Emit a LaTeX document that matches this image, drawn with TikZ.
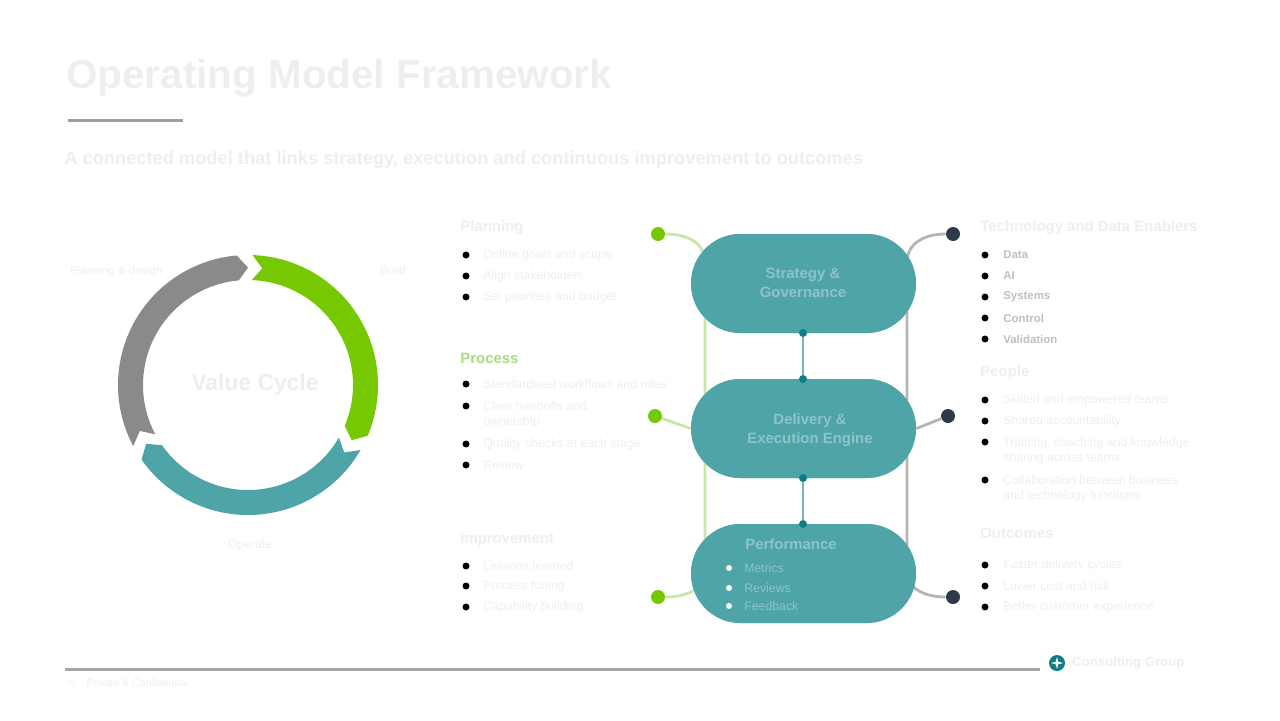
\documentclass[tikz,border=0pt]{standalone}
\usepackage{fontspec}
\setmainfont{Liberation Sans}
\definecolor{cgreen}{HTML}{76C800}
\definecolor{cgray}{HTML}{8A8A8A}
\definecolor{cteal}{HTML}{4FA4A8}
\definecolor{cdteal}{HTML}{0F7D82}
\definecolor{cnavy}{HTML}{2E3A48}
\definecolor{lgreen}{HTML}{C8E6A8}
\definecolor{lgray}{HTML}{B4B4B4}
\definecolor{faint}{HTML}{EEEEEE}
\definecolor{faintg}{HTML}{A8DC80}
\definecolor{faintp}{HTML}{8CC4C7}
\tikzset{
  pill/.style={fill=cteal, rounded corners=49.5*0.02cm, minimum width=225*0.02cm, minimum height=99*0.02cm, inner sep=0pt},
  linkdot/.style={circle, fill=cdteal, inner sep=0pt, minimum size=8*0.02cm},
  gdot/.style={circle, fill=cgreen, inner sep=0pt, minimum size=14*0.02cm},
  ndot/.style={circle, fill=cnavy, inner sep=0pt, minimum size=14*0.02cm},
  bul/.style={circle, fill=black, inner sep=0pt, minimum size=7*0.02cm},
  wbul/.style={circle, fill=white, inner sep=0pt, minimum size=6*0.02cm},
  btxt/.style={anchor=west, inner sep=0pt, text=faint, font=\fontsize{7}{8.5}\selectfont, align=left},
  head/.style={anchor=west, inner sep=0pt, font=\fontsize{8.5}{10}\bfseries\selectfont},
  ptxt/.style={inner sep=0pt, text=faintp, font=\fontsize{8.5}{11}\bfseries\selectfont, align=center},
}
\begin{document}
\begin{tikzpicture}[x=0.02cm,y=-0.02cm]
\useasboundingbox (0,0) rectangle (1280,720);
% title
\node[anchor=west, inner sep=0pt, text=faint, font=\fontsize{23}{27}\bfseries\selectfont] (title) at (66,78) {Operating Model Framework};
\fill[black!38] (68,118.5) rectangle (183,121.5);
\node[anchor=west, inner sep=0pt, text=faint, font=\fontsize{10.4}{13}\bfseries\selectfont] (sub) at (64,160) {A connected model that links strategy, execution and continuous improvement to outcomes};

% donut
\begin{scope}[xshift=248*0.02cm, yshift=-385*0.02cm, x=0.02cm, y=0.02cm]
  \fill[cgray] (208:130) arc[start angle=208, end angle=95, radius=130] -- (90:117.5) -- (95:105) arc[start angle=95, end angle=208, radius=105] -- (203:117.5) -- cycle;
  \fill[cgreen] (88:130) arc[start angle=88, end angle=-23, radius=130] -- (-28:117.5) -- (-23:105) arc[start angle=-23, end angle=88, radius=105] -- (83:117.5) -- cycle;
  \fill[cteal] (-30:130) arc[start angle=-30, end angle=-145, radius=130] -- (-150:117.5) -- (-145:105) arc[start angle=-145, end angle=-30, radius=105] -- (-35:117.5) -- cycle;
\end{scope}
\node[inner sep=0pt, text=faint, font=\fontsize{13}{15}\bfseries\selectfont] (dcenter) at (255,385) {Value Cycle};
\node[anchor=west, inner sep=0pt, text=faint, font=\fontsize{6.5}{8}\selectfont] (dl1) at (70,272) {Planning \& design};
\node[anchor=west, inner sep=0pt, text=faint, font=\fontsize{6.5}{8}\selectfont] (dl2) at (380,270) {Build};
\node[inner sep=0pt, text=faint, font=\fontsize{7}{8}\selectfont] (dl3) at (250,545) {Operate};

% pills
\node[pill] (p1) at (803.5,283.5) {};
\node[pill] (p2) at (803.5,428.5) {};
\node[pill] (p3) at (803.5,573.5) {};

% side connectors
\node[gdot] (g1) at (658,234) {};
\node[gdot] (g2) at (655,416) {};
\node[gdot] (g3) at (658,597) {};
\node[ndot] (n1) at (953,234) {};
\node[ndot] (n2) at (948,416) {};
\node[ndot] (n3) at (953,597) {};
\coordinate (lt) at (705,262);
\coordinate (lb) at (705,572);
\coordinate (rt) at (907,262);
\coordinate (rb) at (907,572);
\draw[lgreen, line width=1.6pt] (g1) .. controls (690,234) and (705,245) .. (lt) -- (lb) .. controls (705,588) and (688,597) .. (g3);
\draw[lgreen, line width=1.6pt] (g2) -- (p2.west);
\draw[lgray, line width=1.6pt] (n1) .. controls (922,234) and (907,245) .. (rt) -- (rb) .. controls (907,588) and (924,597) .. (n3);
\draw[lgray, line width=1.6pt] (p2.east) -- (n2);
% redraw pills on top of the side lines
\node[pill] at (p1) {};
\node[pill] at (p2) {};
\node[pill] at (p3) {};

% links between pills
\node[linkdot] (a1) at (803,333) {};
\node[linkdot] (a2) at (803,379) {};
\node[linkdot] (b1) at (803,478) {};
\node[linkdot] (b2) at (803,524) {};
\draw[cteal!80, line width=1.4pt] (a1) -- (a2);
\draw[cteal!80, line width=1.4pt] (b1) -- (b2);

% pill texts
\node[ptxt] (t1) at (803,283) {Strategy \&\\Governance};
\node[ptxt] (t2) at (810,430) {Delivery \&\\Execution Engine};
\node[ptxt, anchor=west] (t3) at (745,544) {Performance};
\node[wbul] (w1) at (729,568) {};
\node[wbul] (w2) at (729,588) {};
\node[wbul] (w3) at (729,606) {};
\node[btxt, text=faintp] (wt1) at (744,568) {Metrics};
\node[btxt, text=faintp] (wt2) at (744,588) {Reviews};
\node[btxt, text=faintp] (wt3) at (744,606) {Feedback};

% left column
\node[head, text=faint] (lh1) at (460,228) {Planning};
\node[head, text=faintg] (lh2) at (460,358) {Process};
\node[head, text=faint] (lh3) at (460,540) {Improvement};
\foreach \y/\t [count=\i] in {255/Define goals and scope, 276/Align stakeholders, 297/Set priorities and budget}
  {\node[bul] (lb\i) at (466,\y) {}; \node[btxt] (lbt\i) at (483,\y) {\t};}
\foreach \y/\t [count=\i] in {384/Standardised workflows and roles, 444/Quality checks at each stage, 465/Review}
  {\node[bul] (lm\i) at (466,\y) {}; \node[btxt] (lmt\i) at (483,\y) {\t};}
\node[bul] (lm4) at (466,406) {};
\node[btxt] (lmt4) at (483,414.5) {Clear handoffs and\\ownership};
\foreach \y/\t [count=\i] in {566/Lessons learned, 586/Process tuning, 607/Capability building}
  {\node[bul] (ll\i) at (466,\y) {}; \node[btxt] (llt\i) at (483,\y) {\t};}

% right column
\node[head, text=faint] (rh1) at (980,228) {Technology and Data Enablers};
\node[head, text=faint] (rh2) at (980,373) {People};
\node[head, text=faint] (rh3) at (980,533) {Outcomes};
\foreach \y/\t [count=\i] in {255/Data, 276/AI, 297/Systems, 318/Control, 339/Validation}
  {\node[bul] (rb\i) at (985,\y) {}; \node[btxt, text=black!25, font=\fontsize{6.5}{8}\bfseries\selectfont] (rbt\i) at (1003,\y) {\t};}
\foreach \y/\t [count=\i] in {400/Skilled and empowered teams, 421/Shared accountability}
  {\node[bul] (rm\i) at (985,\y) {}; \node[btxt] (rmt\i) at (1003,\y) {\t};}
\node[bul] (rm3) at (985,442) {};
\node[btxt] (rmt3) at (1003,450.5) {Training, coaching and knowledge\\sharing across teams};
\node[bul] (rm4) at (985,480) {};
\node[btxt] (rmt4) at (1003,488.5) {Collaboration between business\\and technology functions};
\foreach \y/\t [count=\i] in {565/Faster delivery cycles, 586/Lower cost and risk, 607/Better customer experience}
  {\node[bul] (ro\i) at (985,\y) {}; \node[btxt] (rot\i) at (1003,\y) {\t};}

% footer
\fill[black!35] (65,667.5) rectangle (1040,670.5);
\node[circle, fill=cdteal, inner sep=0pt, minimum size=16*0.02cm] (logo) at (1057,663) {};
\fill[white] (1057,657) -- (1058.3,661.7) -- (1063,663) -- (1058.3,664.3) -- (1057,669) -- (1055.7,664.3) -- (1051,663) -- (1055.7,661.7) -- cycle;
\node[anchor=west, inner sep=0pt, text=faint, font=\fontsize{7.5}{9}\bfseries\selectfont] (brand) at (1072,663) {Consulting Group};
\node[anchor=west, inner sep=0pt, text=faint, font=\fontsize{6}{7}\selectfont] (foot) at (68,683) {©\quad Private \& Confidential};
\end{tikzpicture}
\end{document}
